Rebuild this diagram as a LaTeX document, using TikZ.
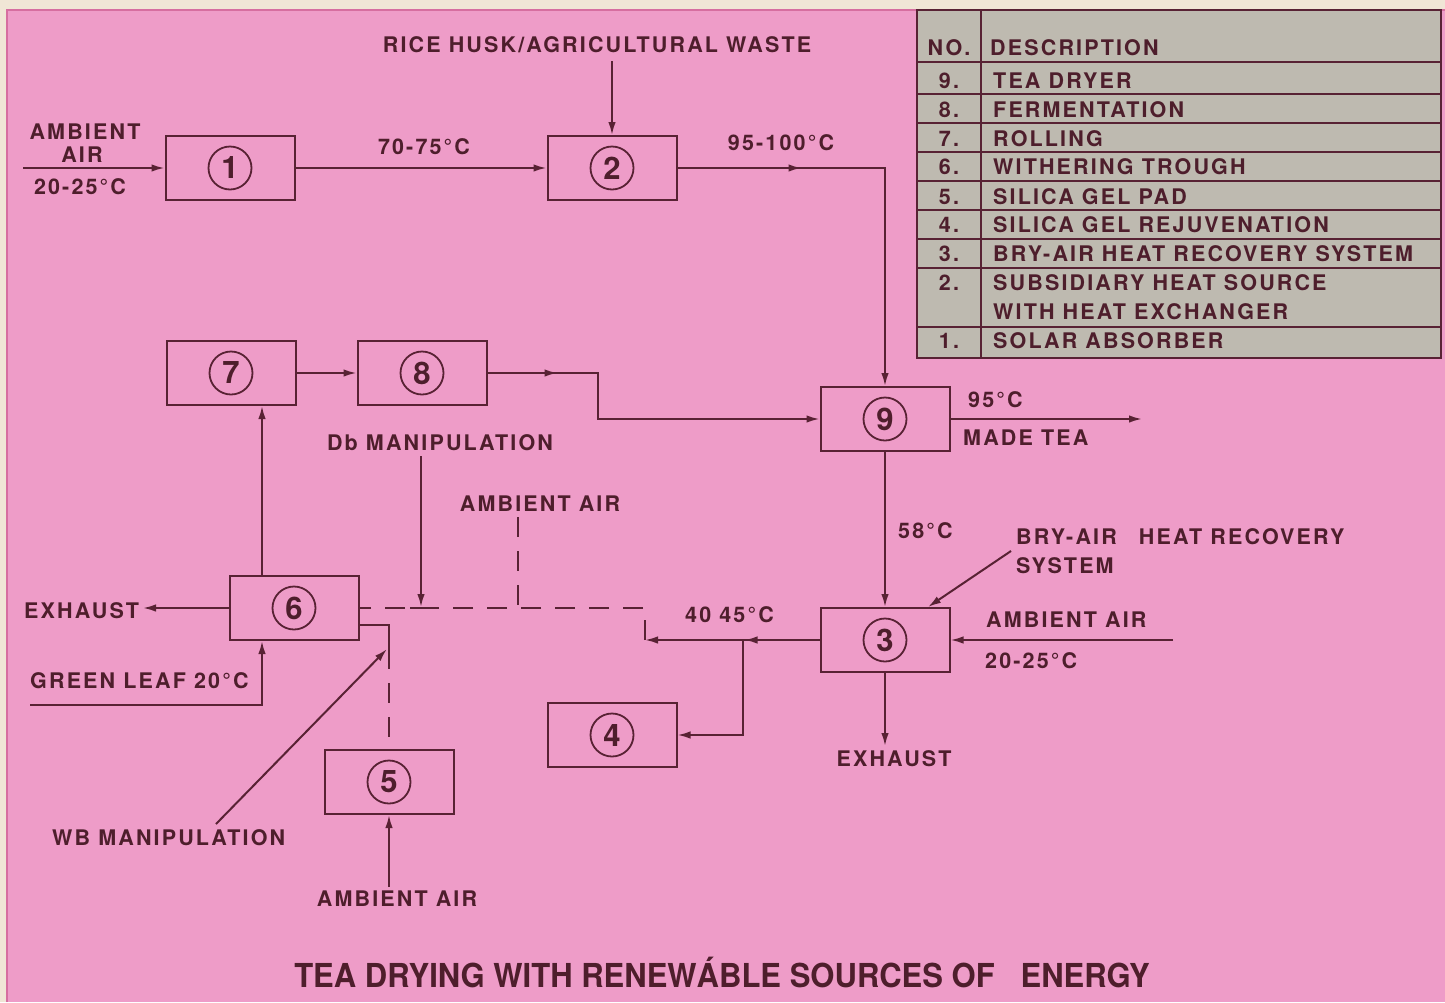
\documentclass[tikz,border=0pt]{standalone}
\usepackage{fontspec}
\usetikzlibrary{arrows.meta,decorations.markings}
\newfontfamily\labfam[LetterSpace=10]{TeX Gyre Heros}
\newfontfamily\titfam{TeX Gyre Heros}
\definecolor{pinkbg}{RGB}{238,156,200}
\definecolor{pinkedge}{RGB}{214,110,160}
\definecolor{creambg}{RGB}{240,230,214}
\definecolor{ln}{RGB}{88,34,52}
\definecolor{tx}{RGB}{78,30,44}
\definecolor{tblbg}{RGB}{190,186,176}
\begin{document}
\begin{tikzpicture}[x=1pt,y=-1pt,
  blk/.style={draw=ln,line width=2pt,minimum width=129pt,minimum height=64pt,inner sep=0pt},
  num/.style={circle,draw=ln,line width=1.8pt,minimum size=43pt,inner sep=0pt,text=tx,font=\titfam\bfseries\fontsize{31}{31}\selectfont},
  lbl/.style={text=tx,inner sep=0pt,font=\labfam\bfseries\fontsize{21.5}{25}\selectfont},
  wire/.style={draw=ln,line width=2pt},
  arr/.style={wire,-{Latex[length=13pt,width=7.5pt]}},
  dsh/.style={wire,dash pattern=on 20pt off 14pt},
  midarr/.style={postaction={decorate},decoration={markings,mark=at position #1 with {\arrow[ln]{Latex[length=13pt,width=7.5pt]}}}},
  tline/.style={draw=ln,line width=1.6pt}]
\useasboundingbox (0,0) rectangle (1445,1002);
\fill[creambg] (0,0) rectangle (1445,1002);
\fill[pinkbg] (7,10) rectangle (1445,1002);
\draw[pinkedge,line width=1.5pt] (7,1002) -- (7,10) -- (1445,10);

% ---------- table ----------
\fill[tblbg] (917,10) rectangle (1441,358);
\draw[tline] (917,10) rectangle (1441,358);
\draw[tline] (981,10) -- (981,358);
\foreach \yy in {62,94,123,152,181,210,239,268,327} \draw[tline] (917,\yy) -- (1441,\yy);
\node[lbl] (tn0) at (949,48) {NO.};
\node[lbl,anchor=west] (td0) at (990,48) {DESCRIPTION};
\node[lbl] (tn9) at (949,81) {9.};
\node[lbl,anchor=west] (td9) at (993,81) {TEA DRYER};
\node[lbl] (tn8) at (949,110) {8.};
\node[lbl,anchor=west] (td8) at (993,110) {FERMENTATION};
\node[lbl] (tn7) at (949,139) {7.};
\node[lbl,anchor=west] (td7) at (993,139) {ROLLING};
\node[lbl] (tn6) at (949,167) {6.};
\node[lbl,anchor=west] (td6) at (993,167) {WITHERING TROUGH};
\node[lbl] (tn5) at (949,197) {5.};
\node[lbl,anchor=west] (td5) at (993,197) {SILICA GEL PAD};
\node[lbl] (tn4) at (949,225) {4.};
\node[lbl,anchor=west] (td4) at (993,225) {SILICA GEL REJUVENATION};
\node[lbl] (tn3) at (949,254) {3.};
\node[lbl,anchor=west] (td3) at (993,254) {BRY-AIR HEAT RECOVERY SYSTEM};
\node[lbl] (tn2) at (949,283) {2.};
\node[lbl,anchor=west] (td2) at (993,283) {SUBSIDIARY HEAT SOURCE};
\node[lbl,anchor=west] (td2b) at (993,312) {WITH HEAT EXCHANGER};
\node[lbl] (tn1) at (949,341) {1.};
\node[lbl,anchor=west] (td1) at (993,341) {SOLAR ABSORBER};

% ---------- blocks ----------
\node[blk] (b1) at (230,168) {};
\node[blk] (b2) at (612,168) {};
\node[blk] (b9) at (885,419) {};
\node[blk] (b7) at (231,373) {};
\node[blk] (b8) at (422,373) {};
\node[blk] (b6) at (294,608) {};
\node[blk] (b3) at (885,640) {};
\node[blk] (b4) at (612,735) {};
\node[blk] (b5) at (389,782) {};
\node[num] (n1) at (b1) {1};
\node[num] (n2) at (b2) {2};
\node[num] (n9) at (b9) {9};
\node[num] (n7) at (b7) {7};
\node[num] (n8) at (b8) {8};
\node[num] (n6) at (b6) {6};
\node[num] (n3) at (b3) {3};
\node[num] (n4) at (b4) {4};
\node[num] (n5) at (b5) {5};

% ---------- coordinates ----------
\coordinate (inA) at (23,168);
\coordinate (rice) at (612,61);
\coordinate (c29) at (885,168);
\coordinate (c89a) at (598,373);
\coordinate (c89b) at (598,419);
\coordinate (tea) at (1142,419);
\coordinate (bryp) at (1011,551);
\coordinate (bryt) at (928,607);
\coordinate (ambR) at (1173,640);
\coordinate (exh3) at (885,746);
\coordinate (j1) at (645,640);
\coordinate (jd) at (645,608);
\coordinate (j2) at (743,640);
\coordinate (j3) at (743,735);
\coordinate (ambC) at (518,517);
\coordinate (ambCd) at (518,608);
\coordinate (dbt) at (421,456);
\coordinate (dbb) at (421,607);
\coordinate (x262) at (262,0);
\coordinate (exh6) at (143,608);
\coordinate (gl) at (30,705);
\coordinate (glc) at (262,705);
\coordinate (s6a) at (359,625);
\coordinate (s6b) at (389,625);
\coordinate (s6c) at (389,649);
\coordinate (wbp) at (216,824);
\coordinate (wbt) at (387,649);
\coordinate (amb5) at (389,887);

% ---------- connectors ----------
\draw[arr] (inA) -- (b1.west);
\draw[arr] (b1.east) -- (b2.west);
\draw[arr] (rice) -- (b2.north);
\draw[arr,midarr=124pt] (b2.east) -- (c29) -- (b9.north);
\draw[arr] (b7.east) -- (b8.west);
\draw[arr,midarr=70pt] (b8.east) -- (c89a) -- (c89b) -- (b9.west);
\draw[arr] (b9.east) -- (tea);
\draw[arr] (b9.south) -- (b3.north);
\draw[arr] (bryp) -- (bryt);
\draw[arr] (ambR) -- (b3.east);
\draw[arr] (b3.south) -- (exh3);
\draw[arr,midarr=75pt] (b3.west) -- (j1);
\draw[arr] (j2) -- (j3) -- (b4.east);
\draw[dsh] (j1) -- (jd) -- (b6.east);
\draw[dsh] (ambC) -- (ambCd);
\draw[arr] (dbt) -- (dbb);
\draw[wire] (410,608) -- (433,608);
\draw[arr] (b6.north -| x262) -- (b7.south -| x262);
\draw[arr] (b6.west) -- (exh6);
\draw[arr] (gl) -- (glc) -- (b6.south -| x262);
\draw[wire] (s6a) -- (s6b) -- (s6c);
\draw[dsh] (s6c) -- (b5.north);
\draw[arr] (wbp) -- (wbt);
\draw[arr] (amb5) -- (b5.south);

% ---------- labels ----------
\node[lbl] (l1) at (85,132) {AMBIENT};
\node[lbl] (l2) at (82,155) {AIR};
\node[lbl] (l3) at (80,187) {20-25°C};
\node[lbl] (l4) at (424,147) {70-75°C};
\node[lbl] (l5) at (597,45) {RICE HUSK/AGRICULTURAL WASTE};
\node[lbl] (l6) at (781,143) {95-100°C};
\node[lbl,anchor=west] (l7) at (968,400) {95°C};
\node[lbl,anchor=west] (l8) at (963,438) {MADE TEA};
\node[lbl] (l9) at (440,443) {Db MANIPULATION};
\node[lbl] (l10) at (540,504) {AMBIENT AIR};
\node[lbl,anchor=west] (l11) at (898,531) {58°C};
\node[lbl,anchor=west] (l12) at (1016,537) {BRY-AIR\hspace{14pt} HEAT RECOVERY};
\node[lbl,anchor=west] (l13) at (1016,566) {SYSTEM};
\node[lbl,anchor=west] (l14) at (685,615) {40 45°C};
\node[lbl,anchor=west] (l15) at (24,611) {EXHAUST};
\node[lbl,anchor=west] (l16) at (986,620) {AMBIENT AIR};
\node[lbl,anchor=west] (l17) at (985,661) {20-25°C};
\node[lbl,anchor=west] (l18) at (30,681) {GREEN LEAF 20°C};
\node[lbl] (l19) at (894,759) {EXHAUST};
\node[lbl,anchor=west] (l20) at (52,838) {WB MANIPULATION};
\node[lbl] (l21) at (397,899) {AMBIENT AIR};
\node[text=tx,inner sep=0pt,font=\titfam\bfseries\fontsize{33}{36}\selectfont] (title) at (722,972) {\scalebox{0.94}[1]{TEA DRYING WITH RENEWÁBLE SOURCES OF \ \ ENERGY}};
\end{tikzpicture}
\end{document}
